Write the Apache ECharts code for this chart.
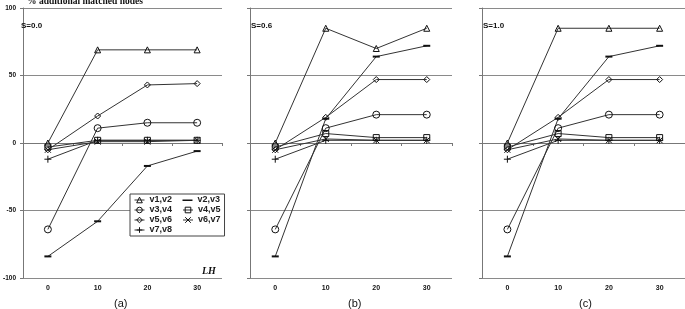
<!DOCTYPE html>
<html>
<head>
<meta charset="utf-8">
<script src="https://cdn.jsdelivr.net/npm/echarts@6/dist/echarts.min.js"></script>
<style>
html, body { margin: 0; padding: 0; background: #fff; }
#chart { width: 685px; height: 309px; }
</style>
</head>
<body>
<div id="chart"></div>
<script>
// LH values (x categories)
const lhTicks = ['0', '10', '20', '30'];
const seriesNames = ['v1,v2', 'v2,v3', 'v3,v4', 'v4,v5', 'v5,v6', 'v6,v7', 'v7,v8'];
const panelLabels = ['(a)', '(b)', '(c)'];
const sLabels = ['S=0.0', 'S=0.6', 'S=1.0'];

// panel (a): S=0.0
const a_v1v2 = [0, 69, 69, 69];
const a_v2v3 = [-84, -58, -17, -6];
const a_v3v4 = [-64, 11, 15, 15];
const a_v4v5 = [-3, 2, 2, 2];
const a_v5v6 = [-5, 20, 43, 44];
const a_v6v7 = [-5, 1, 1, 2];
const a_v7v8 = [-12, 2, 2, 2];

// panel (b): S=0.6
const b_v1v2 = [0, 85, 70, 85];
const b_v2v3 = [-84, 18, 64, 72];
const b_v3v4 = [-64, 11, 21, 21];
const b_v4v5 = [-3, 7, 4, 4];
const b_v5v6 = [-5, 19, 47, 47];
const b_v6v7 = [-5, 3, 2, 2];
const b_v7v8 = [-12, 2, 2, 2];

// panel (c): S=1.0
const c_v1v2 = [0, 85, 85, 85];
const c_v2v3 = [-84, 18, 64, 72];
const c_v3v4 = [-64, 11, 21, 21];
const c_v4v5 = [-3, 7, 4, 4];
const c_v5v6 = [-5, 19, 47, 47];
const c_v6v7 = [-5, 3, 2, 2];
const c_v7v8 = [-12, 2, 2, 2];

const panels = [
    [a_v1v2, a_v2v3, a_v3v4, a_v4v5, a_v5v6, a_v6v7, a_v7v8],
    [b_v1v2, b_v2v3, b_v3v4, b_v4v5, b_v5v6, b_v6v7, b_v7v8],
    [c_v1v2, c_v2v3, c_v3v4, c_v4v5, c_v5v6, c_v6v7, c_v7v8]
];

// marker style per series (same order as seriesNames)
const hollow = { color: 'rgba(0,0,0,0)', borderColor: '#111', borderWidth: 1 };
const marks = [
    { symbol: 'triangle', size: 6, style: hollow },
    { symbol: 'path://M0,0H10V2H0Z', size: [7, 2], style: { color: '#111', borderColor: '#111', borderWidth: 0 } },
    { symbol: 'circle', size: 7, style: hollow },
    { symbol: 'rect', size: 6, style: hollow },
    { symbol: 'diamond', size: 6, style: hollow },
    { symbol: 'path://M0,0L10,10M10,0L0,10', size: 6, style: hollow },
    { symbol: 'path://M5,0V10M0,5H10', size: 7, style: hollow }
];
const lineStyle = { color: '#333', width: 1 };
// legend icon for the dash marker: a bar across the middle of the icon box
const dashIcon = 'path://M0,0H0.01V0.01H0ZM0,3H10V4.6H0ZM0,7H0.01V7.01H0Z';

const grids = [
    { left: 20, right: 463, top: 8, bottom: 31 },
    { left: 250, right: 233, top: 8, bottom: 31 },
    { left: 482, right: 0, top: 8, bottom: 31 }
];
const axisLeft = [20, 250, 482];

const sans = 'Liberation Sans';
const serif = 'Liberation Serif';

const xAxes = [];
const yAxes = [];
const series = [];

grids.forEach((g, p) => {
    // axis carrying the labels at the bottom
    xAxes.push({
        gridIndex: p,
        type: 'category',
        data: lhTicks,
        position: 'bottom',
        axisLine: { show: false, onZero: false },
        axisTick: { show: false },
        axisLabel: { fontSize: 7, fontWeight: 'bold', color: '#111', margin: 7, fontFamily: sans }
    });
    // axis line crossing at zero, with ticks
    xAxes.push({
        gridIndex: p,
        type: 'category',
        data: lhTicks,
        position: 'bottom',
        axisLine: { show: true, onZero: true, lineStyle: { color: '#777', width: 1 } },
        axisTick: { show: true, length: 3, lineStyle: { color: '#777' } },
        axisLabel: { show: false }
    });
    yAxes.push({
        gridIndex: p,
        type: 'value',
        min: -100,
        max: 100,
        interval: 50,
        axisLine: { show: true, lineStyle: { color: '#777', width: 1 } },
        axisTick: { show: true, length: 3, lineStyle: { color: '#777' } },
        axisLabel: {
            show: p === 0, fontSize: 6.5, fontWeight: 'bold', color: '#111',
            margin: 7, fontFamily: sans
        },
        splitLine: { show: true, lineStyle: { color: '#8a8a8a', width: 1 } }
    });

    panels[p].forEach((vals, k) => {
        series.push({
            type: 'line',
            name: seriesNames[k],
            xAxisIndex: p * 2,
            yAxisIndex: p,
            data: vals,
            symbol: marks[k].symbol,
            symbolSize: marks[k].size,
            showAllSymbol: true,
            itemStyle: marks[k].style,
            lineStyle: lineStyle,
            emphasis: { disabled: true },
            animation: false,
            z: 3
        });
    });
});

const titles = [
    {
        text: '% additional matched nodes', left: 27, top: -3, padding: 0,
        textStyle: { fontFamily: serif, fontWeight: 'bold', fontSize: 9.5, color: '#111' }
    },
    {
        text: 'LH', left: 202, top: 266, padding: 0,
        textStyle: { fontFamily: serif, fontWeight: 'bold', fontStyle: 'italic', fontSize: 10, color: '#111' }
    }
];
sLabels.forEach((s, p) => {
    titles.push({
        text: s, left: axisLeft[p] + 1, top: 22, padding: 0,
        textStyle: { fontFamily: sans, fontWeight: 'bold', fontSize: 8, color: '#111' }
    });
});
const subLeft = [114, 348, 579];
panelLabels.forEach((s, p) => {
    titles.push({
        text: s, left: subLeft[p], top: 298, padding: 0,
        textStyle: { fontFamily: sans, fontWeight: 'normal', fontSize: 11, color: '#111' }
    });
});

const legendData = seriesNames.map((n, i) => {
    const item = {
        name: n,
        itemStyle: marks[i].style,
        lineStyle: lineStyle,
        textStyle: { width: i % 2 === 0 ? 33 : 22 }
    };
    if (i === 1) item.icon = dashIcon;
    return item;
});

const chart = echarts.init(document.getElementById('chart'));
chart.setOption({
    animation: false,
    backgroundColor: '#fff',
    title: titles,
    grid: grids,
    xAxis: xAxes,
    yAxis: yAxes,
    legend: {
        data: legendData,
        left: 130,
        top: 194,
        width: 100,
        orient: 'horizontal',
        itemWidth: 10,
        itemHeight: 7,
        itemGap: 0,
        padding: [1, 4, 1, 4],
        borderColor: '#444',
        borderWidth: 1,
        backgroundColor: '#fff',
        selectedMode: false,
        textStyle: { fontSize: 9, fontWeight: 'bold', fontFamily: sans, color: '#222', lineHeight: 10 }
    },
    series: series
});
</script>
</body>
</html>
